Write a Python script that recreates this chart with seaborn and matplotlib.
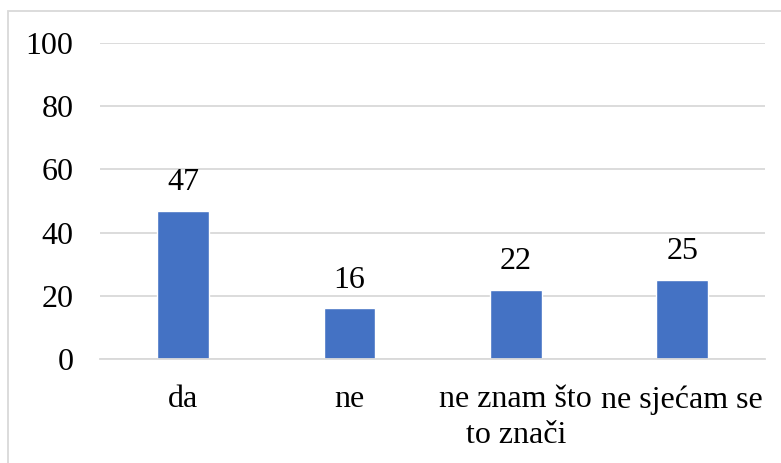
import seaborn as sns
import matplotlib.pyplot as plt
from matplotlib.patches import Rectangle

categories = ["da", "ne", "ne znam što\nto znači", "ne sjećam se"]
values = [47, 16, 22, 25]

sns.set_theme(style="white")
plt.rcParams["font.family"] = ["Liberation Serif", "DejaVu Serif"]

fig = plt.figure(figsize=(7.81, 4.63), dpi=100)
ax = fig.add_axes([0.128, 0.2246, 0.852, 0.6824])

sns.barplot(x=categories, y=values, color="#4472C4", saturation=1, width=0.31, ax=ax)

for i, v in enumerate(values):
    ax.text(i, v + 4.3, str(v), ha="center", va="bottom", fontsize=23, color="black")

ax.set_ylim(0, 100)
ax.set_yticks(range(0, 101, 20))
ax.yaxis.grid(True, color="#d9d9d9", linewidth=1.3)
ax.set_axisbelow(True)
for s in ["top", "right", "left"]:
    ax.spines[s].set_visible(False)
ax.spines["bottom"].set_color("#d9d9d9")
ax.spines["bottom"].set_linewidth(1.3)
ax.tick_params(axis="both", length=0, labelsize=23, colors="black")
ax.tick_params(axis="y", pad=19)
ax.tick_params(axis="x", pad=19)
for lab in ax.get_xticklabels():
    lab.set_linespacing(1.3)
ax.set_xlabel("")
ax.set_ylabel("")

fig.patches.append(Rectangle((8 / 781, -0.05), 1.2, 1 - 11 / 463 + 0.05,
                             transform=fig.transFigure, fill=False,
                             edgecolor="#d9d9d9", linewidth=1.3))

fig.savefig("out.png", dpi=100)
